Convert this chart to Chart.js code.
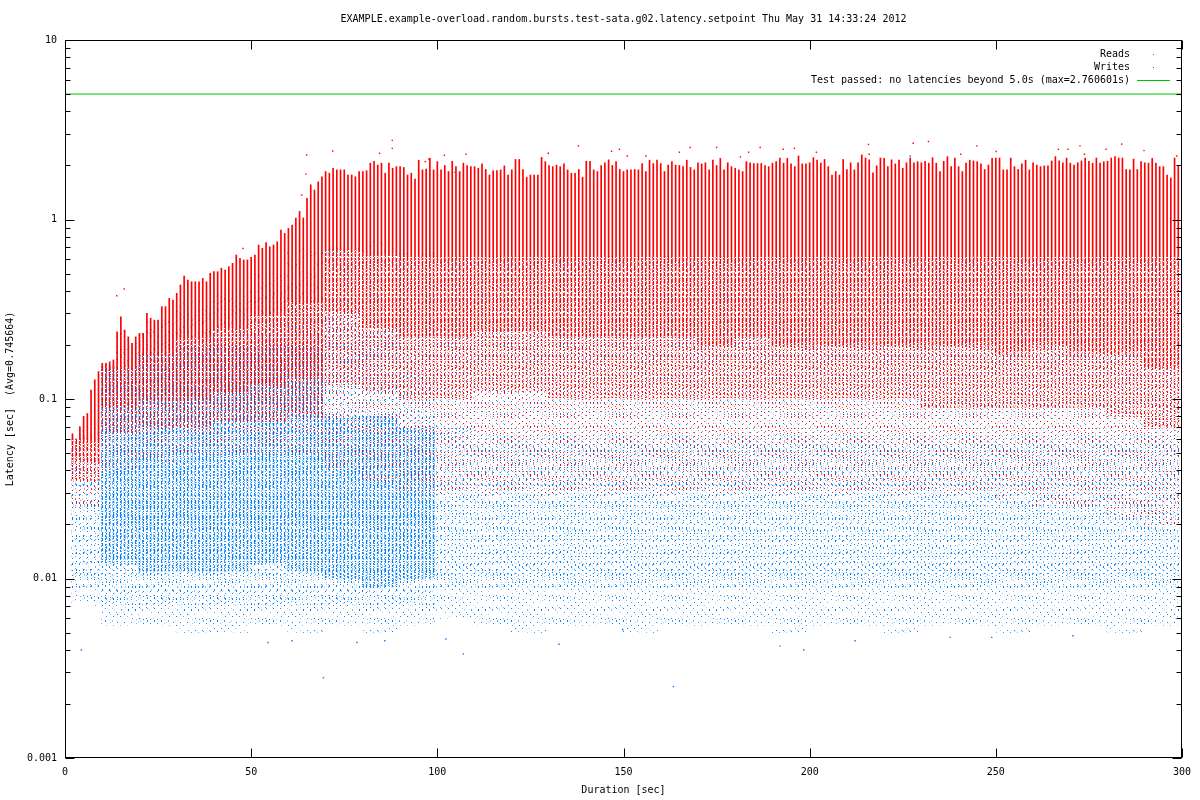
<!DOCTYPE html>
<html>
<head>
<meta charset="utf-8">
<script src="https://cdn.jsdelivr.net/npm/chart.js@4/dist/chart.umd.min.js"></script>
<style>
  html, body { margin: 0; padding: 0; background: #fff; }
  canvas { display: block; }
</style>
</head>
<body>
<canvas id="latency" width="1200" height="800"></canvas>
<script>
// tick labels
const xTickValues = [0, 50, 100, 150, 200, 250, 300];
const yTickValues = [0.001, 0.01, 0.1, 1, 10];
const yTickLabels = ['0.001', '0.01', '0.1', '1', '10'];
const limitLatency = 5.0;

// top of each one-second column of writes (seconds 2..299)
const writeTop = [
  0.064, 0.060, 0.070, 0.080, 0.083, 0.112, 0.128, 0.142, 0.158, 0.158,
  0.161, 0.165, 0.237, 0.287, 0.242, 0.222, 0.204, 0.222, 0.232, 0.232,
  0.300, 0.282, 0.275, 0.275, 0.327, 0.327, 0.364, 0.356, 0.388, 0.432,
  0.484, 0.460, 0.450, 0.450, 0.450, 0.470, 0.450, 0.501, 0.512, 0.512,
  0.535, 0.523, 0.546, 0.570, 0.634, 0.608, 0.595, 0.595, 0.616, 0.634,
  0.721, 0.691, 0.743, 0.705, 0.721, 0.752, 0.874, 0.838, 0.893, 0.932,
  1.02, 1.11, 1.02, 1.31, 1.56, 1.46, 1.62, 1.73, 1.85, 1.81,
  1.93, 1.89, 1.89, 1.89, 1.77, 1.77, 1.73, 1.85,
  1.85, 1.87, 2.06, 2.11, 2.01, 2.06, 1.81, 2.06, 1.93, 1.97,
  1.97, 1.95, 1.77, 1.81, 1.68, 2.14, 1.89, 1.91, 2.19, 1.89,
  2.10, 1.89, 2.00, 1.85, 2.11, 1.97, 1.85, 2.06, 2.00, 1.97,
  1.97, 1.93, 2.04, 1.90, 1.77, 1.87, 1.87, 1.89, 1.99, 1.77,
  1.89, 2.16, 2.16, 1.90, 1.72, 1.77, 1.77, 1.77, 2.21, 2.10,
  2.00, 1.97, 2.01, 1.97, 2.04, 1.89, 1.81, 1.81, 1.90, 1.72,
  2.11, 2.11, 1.89, 1.85, 2.00, 2.07, 2.15, 2.00, 2.10, 1.90,
  1.85, 1.89, 1.89, 1.90, 1.89, 2.05, 1.85, 2.14, 2.05, 2.14,
  2.05, 1.85, 2.01, 2.10, 2.01, 2.00, 1.97, 2.14, 1.95, 1.89,
  2.07, 2.04, 2.07, 1.89, 2.14, 2.00, 2.19, 1.89, 2.07, 1.97,
  1.93, 1.89, 1.85, 2.10, 2.07, 2.05, 2.05, 2.05, 2.00, 1.97,
  2.06, 2.10, 2.20, 2.06, 2.19, 2.04, 1.97, 2.26, 2.04, 2.04,
  2.07, 2.21, 2.14, 2.06, 2.16, 1.97, 1.77, 1.85, 1.77, 2.16,
  1.90, 2.07, 1.89, 2.07, 2.29, 2.20, 2.15, 1.82, 1.99, 2.20,
  2.19, 1.97, 2.15, 2.04, 2.14, 1.93, 2.07, 2.20, 2.07, 2.10,
  2.07, 2.11, 2.06, 2.21, 2.06, 1.85, 2.11, 2.24, 1.97, 2.20,
  1.97, 1.85, 2.06, 2.14, 2.12, 2.10, 2.04, 1.90, 2.01, 2.19,
  2.20, 2.20, 1.89, 1.89, 2.20, 1.97, 1.90, 2.04, 2.14, 1.89,
  2.07, 2.01, 1.97, 1.99, 1.99, 2.12, 2.24, 2.12, 2.07, 2.20,
  2.06, 2.01, 2.07, 2.12, 2.20, 2.11, 2.06, 2.20, 2.06, 2.10,
  2.11, 2.20, 2.24, 2.20, 2.20, 1.90, 1.89, 2.17, 1.90, 2.10,
  2.07, 2.06, 2.19, 2.06, 1.97, 1.97, 1.77, 1.70, 2.20, 2.00
];

// ten-second bins (0-10, 10-20, ... 290-300): where the writes are solid, dense, thin, sparse
const writeSolidBase = [
  0.06, 0.15, 0.18, 0.22, 0.25, 0.30, 0.35, 0.68, 0.65, 0.62,
  0.62, 0.62, 0.62, 0.62, 0.62, 0.62, 0.62, 0.62, 0.62, 0.62,
  0.62, 0.62, 0.62, 0.62, 0.62, 0.62, 0.62, 0.62, 0.62, 0.62
];
const writeDenseBase = [
  0.045, 0.09, 0.10, 0.10, 0.11, 0.12, 0.13, 0.30, 0.25, 0.22,
  0.22, 0.24, 0.24, 0.22, 0.22, 0.22, 0.22, 0.20, 0.22, 0.20,
  0.20, 0.20, 0.20, 0.20, 0.20, 0.18, 0.20, 0.18, 0.18, 0.15
];
const writeThinBase = [
  0.035, 0.065, 0.07, 0.07, 0.075, 0.075, 0.08, 0.12, 0.11, 0.10,
  0.10, 0.11, 0.11, 0.10, 0.10, 0.10, 0.10, 0.10, 0.10, 0.10,
  0.10, 0.10, 0.10, 0.09, 0.09, 0.09, 0.09, 0.09, 0.08, 0.07
];
const writeSparseBase = [
  0.025, 0.04, 0.045, 0.05, 0.05, 0.05, 0.05, 0.04, 0.035, 0.03,
  0.03, 0.03, 0.03, 0.03, 0.03, 0.03, 0.03, 0.03, 0.03, 0.03,
  0.03, 0.03, 0.03, 0.03, 0.03, 0.028, 0.025, 0.025, 0.022, 0.02
];

// reads: overall spread, a moderate core and a strong core
const readTop = [
  0.07, 0.25, 0.28, 0.35, 0.40, 0.50, 0.70, 0.72, 0.75, 0.65,
  0.62, 0.62, 0.62, 0.62, 0.62, 0.62, 0.62, 0.62, 0.62, 0.62,
  0.62, 0.62, 0.62, 0.62, 0.62, 0.62, 0.62, 0.62, 0.62, 0.62
];
const readBase = [
  0.007, 0.0055, 0.0055, 0.005, 0.005, 0.0055, 0.005, 0.0055, 0.005, 0.0055,
  0.006, 0.0055, 0.005, 0.0055, 0.0055, 0.005, 0.0055, 0.0055, 0.0055, 0.005,
  0.0055, 0.0055, 0.005, 0.0055, 0.0055, 0.005, 0.0055, 0.0055, 0.005, 0.0055
];
const readMidTop = [
  0.05, 0.20, 0.25, 0.30, 0.35, 0.40, 0.45, 0.35, 0.25, 0.15,
  0.07, 0.06, 0.06, 0.06, 0.06, 0.06, 0.06, 0.06, 0.06, 0.06,
  0.06, 0.06, 0.06, 0.06, 0.06, 0.06, 0.06, 0.06, 0.06, 0.06
];
const readMidBase = [
  0.009, 0.007, 0.007, 0.007, 0.007, 0.007, 0.007, 0.007, 0.007, 0.007,
  0.009, 0.009, 0.009, 0.009, 0.009, 0.009, 0.009, 0.009, 0.009, 0.009,
  0.009, 0.009, 0.009, 0.009, 0.009, 0.009, 0.009, 0.009, 0.009, 0.009
];
const readStrongTop = [
  null, 0.15, 0.18, 0.20, 0.20, 0.20, 0.20, 0.08, 0.08, 0.07,
  null, null, null, null, null, null, null, null, null, null,
  null, null, null, null, null, null, null, null, null, null
];
const readStrongBase = [
  null, 0.012, 0.011, 0.011, 0.011, 0.012, 0.011, 0.010, 0.009, 0.010,
  null, null, null, null, null, null, null, null, null, null,
  null, null, null, null, null, null, null, null, null, null
];

// isolated samples
const writeOutlierTime = [13.9, 15.9, 47.8, 63.6, 64.7, 64.9, 71.9, 84.5, 87.9, 87.9, 96.8, 97.7, 101.9, 107.7, 128, 129.8, 137.9, 146.8, 148.9, 151, 156, 165, 167.9, 175, 181.4, 183.6, 186.7, 192.9, 195.9, 201.8, 215.8, 216, 227.8, 231.9, 240.6, 244.9, 250.1, 266.8, 269.4, 272.6, 273.8, 279.6, 283.8, 289.8, 298.6];
const writeOutlierLatency = [0.376, 0.41, 0.69, 1.37, 1.79, 2.29, 2.41, 2.34, 2.76, 2.49, 2.10, 2.17, 2.28, 2.31, 2.20, 2.34, 2.57, 2.40, 2.46, 2.26, 2.26, 2.37, 2.52, 2.52, 2.23, 2.37, 2.52, 2.46, 2.49, 2.37, 2.62, 2.31, 2.66, 2.72, 2.31, 2.57, 2.39, 2.46, 2.46, 2.57, 2.31, 2.46, 2.63, 2.42, 2.26];
const readOutlierTime = [4.4, 54.5, 61, 69.4, 78.4, 85.9, 102.3, 104.7, 107, 132.7, 143, 149.8, 163.4, 192, 198.4, 212.2, 227, 237.7, 240, 248.9, 270.7];
const readOutlierLatency = [0.0040, 0.0044, 0.0045, 0.0028, 0.0044, 0.0045, 0.0046, 1.83, 0.0038, 0.0043, 1.73, 0.0052, 0.0025, 0.0042, 0.0040, 0.0045, 2.26, 0.0047, 1.83, 0.0047, 0.0048];

const RED = '#ff0000';
const BLUE = '#0080ff';
const GREEN = '#00c000';
const FONT = '"DejaVu Sans Mono", monospace';

Chart.defaults.font.family = FONT;
Chart.defaults.font.size = 10;
Chart.defaults.color = '#000';

const canvas = document.getElementById('latency');
const ctx = canvas.getContext('2d');

// dotted texture: one string per pixel column, '#' = dot
function texture(color, cols) {
  const tile = document.createElement('canvas');
  tile.width = cols.length;
  tile.height = cols[0].length;
  const g = tile.getContext('2d');
  g.fillStyle = color;
  cols.forEach((col, i) => {
    for (let j = 0; j < col.length; j++) {
      if (col[j] === '#') g.fillRect(i, j, 1, 1);
    }
  });
  return ctx.createPattern(tile, 'repeat');
}

const writeDenseFill = texture(RED, [
  '###.####.###..###.##',
  '#.####..#####.##.###',
  '.####.###.##.####.##',
  '###.##.####..###.###',
  '##.####.###.####..##',
  '.###.#####.##.###.##',
  '####.##.###.####.#.#'
]);
const writeThinFill = texture(RED, [
  '##..#.##...#..##.#.',
  '.#..###..#..##...#.',
  '#.##...#.##..#..##.',
  '..#.##..#...###..#.',
  '##...#.##..#...##..',
  '.#.#..##...##.#...#',
  '#..##...#.#..##..#.'
]);
const writeSparseFill = texture(RED, [
  '#.......##..........#...',
  '....#..........#........',
  '..........#.......#....#',
  '.#....#.............#...',
  '.......#.....#..........',
  '...#..............##....',
  '............#.........#.'
]);
const readSparseFill = texture(BLUE, [
  '#.........#...........#',
  '....#.............#....',
  '...........##..........',
  '..#..................#.',
  '.......#......#........',
  '.#..............#......',
  '.........#..........#..'
]);
const readMidFill = texture(BLUE, [
  '#.......#........',
  '...##............',
  '.........#....#..',
  '.#...........#...',
  '......#.....#....',
  '..#.........#....',
  '........##.......'
]);
const readStrongFill = texture(BLUE, [
  '.#.##..#...#.##.#..##',
  '#...##..##.###..#..#.',
  '.##..#..#.##...#.##.#',
  '#..###...#..##.##.#..',
  '..##...#.##..#.#...##',
  '#...#.##..###..#.#.#.',
  '.#.##..#.#..##...##.#'
]);

const binOf = t => Math.min(29, Math.floor(t / 10));

// one bar per second, bounds from the bin, never above the column top
function columns(lo, hi) {
  const out = [];
  writeTop.forEach((top, k) => {
    const t = k + 2, b = binOf(t);
    if (lo[b] == null || hi[b] == null) return;
    const h = Math.min(hi[b], top);
    if (h > lo[b]) out.push({ x: t, y: [lo[b], h] });
  });
  return out;
}

const columnDataset = (data, fill) => ({
  type: 'bar',
  data: data,
  backgroundColor: fill,
  borderWidth: 0,
  barThickness: 1,
  grouped: false
});

const solidWrites = writeTop.map((top, k) => ({ x: k + 2, y: [writeSolidBase[binOf(k + 2)], top] }))
  .filter(p => p.y[1] > p.y[0]);

const chrome = {
  id: 'chrome',
  afterDatasetsDraw(chart) {
    const { ctx, chartArea: a, scales: { x, y } } = chart;
    ctx.save();
    ctx.strokeStyle = '#000';
    ctx.lineWidth = 1;
    const L = Math.round(a.left) + 0.5, R = Math.round(a.right) - 0.5;
    const T = Math.round(a.top) + 0.5, B = Math.round(a.bottom) - 0.5;
    ctx.strokeRect(L, T, R - L, B - T);
    ctx.beginPath();
    yTickValues.forEach((v, i) => {
      const py = Math.round(y.getPixelForValue(v)) + 0.5;
      ctx.moveTo(L, py); ctx.lineTo(L + 9, py);
      ctx.moveTo(R, py); ctx.lineTo(R - 9, py);
      if (i < yTickValues.length - 1) {
        for (let m = 2; m <= 9; m++) {
          const pm = Math.round(y.getPixelForValue(v * m)) + 0.5;
          ctx.moveTo(L, pm); ctx.lineTo(L + 5, pm);
          ctx.moveTo(R, pm); ctx.lineTo(R - 5, pm);
        }
      }
    });
    xTickValues.forEach(v => {
      const px = Math.round(x.getPixelForValue(v)) + 0.5;
      ctx.moveTo(px, B); ctx.lineTo(px, B - 9);
      ctx.moveTo(px, T); ctx.lineTo(px, T + 9);
    });
    ctx.stroke();

    ctx.fillStyle = '#000';
    ctx.font = '10px ' + FONT;
    ctx.textBaseline = 'middle';
    ctx.textAlign = 'center';
    ctx.fillText('EXAMPLE.example-overload.random.bursts.test-sata.g02.latency.setpoint Thu May 31 14:33:24 2012', (a.left + a.right) / 2, 19);

    ctx.textAlign = 'right';
    const tx = a.right - 52;
    ctx.fillText('Reads', tx, a.top + 14);
    ctx.fillText('Writes', tx, a.top + 27);
    ctx.fillText('Test passed: no latencies beyond 5.0s (max=2.760601s)', tx, a.top + 40);
    ctx.fillStyle = BLUE;
    ctx.fillRect(a.right - 29, a.top + 14, 1, 1);
    ctx.fillStyle = RED;
    ctx.fillRect(a.right - 29, a.top + 27, 1, 1);
    ctx.strokeStyle = GREEN;
    ctx.beginPath();
    ctx.moveTo(a.right - 45, a.top + 40.5);
    ctx.lineTo(a.right - 12, a.top + 40.5);
    ctx.stroke();
    ctx.restore();
  }
};

new Chart(canvas, {
  type: 'bar',
  data: {
    datasets: [
      {
        type: 'line',
        data: writeOutlierTime.map((t, i) => ({ x: t, y: writeOutlierLatency[i] })),
        showLine: false,
        pointStyle: 'rect',
        pointRadius: 1,
        pointBorderWidth: 0,
        pointBackgroundColor: RED
      },
      {
        type: 'line',
        data: readOutlierTime.map((t, i) => ({ x: t, y: readOutlierLatency[i] })),
        showLine: false,
        pointStyle: 'rect',
        pointRadius: 1,
        pointBorderWidth: 0,
        pointBackgroundColor: BLUE
      },
      {
        type: 'line',
        data: [{ x: 0, y: limitLatency }, { x: 300, y: limitLatency }],
        borderColor: GREEN,
        borderWidth: 1,
        pointRadius: 0
      },
      columnDataset(solidWrites, RED),
      columnDataset(columns(writeDenseBase, writeSolidBase), writeDenseFill),
      columnDataset(columns(writeThinBase, writeDenseBase), writeThinFill),
      columnDataset(columns(writeSparseBase, writeThinBase), writeSparseFill),
      columnDataset(columns(readStrongBase, readStrongTop), readStrongFill),
      columnDataset(columns(readMidBase, readMidTop), readMidFill),
      columnDataset(columns(readBase, readTop), readSparseFill)
    ]
  },
  options: {
    responsive: false,
    animation: false,
    devicePixelRatio: 1,
    layout: { padding: { top: 40, right: 18, left: 0, bottom: 0 } },
    plugins: { legend: { display: false }, tooltip: { enabled: false } },
    scales: {
      x: {
        type: 'linear',
        min: 0,
        max: 300,
        offset: false,
        grid: { display: false, drawTicks: false, offset: false },
        border: { display: false },
        ticks: { padding: 8, maxRotation: 0, autoSkip: false },
        afterBuildTicks: s => { s.ticks = xTickValues.map(v => ({ value: v })); },
        title: { display: true, text: 'Duration [sec]', padding: { top: 0, bottom: 4 } },
        afterFit: s => { s.height = 42; }
      },
      y: {
        type: 'logarithmic',
        min: 0.001,
        max: 10,
        grid: { display: false, drawTicks: false },
        border: { display: false },
        ticks: { padding: 8, callback: v => yTickLabels[yTickValues.indexOf(v)] },
        afterBuildTicks: s => { s.ticks = yTickValues.map(v => ({ value: v })); },
        title: { display: true, text: 'Latency [sec]  (Avg=0.745664)', padding: { top: 4, bottom: 0 } },
        afterFit: s => { s.width = 65; }
      }
    }
  },
  plugins: [chrome]
});
</script>
</body>
</html>
